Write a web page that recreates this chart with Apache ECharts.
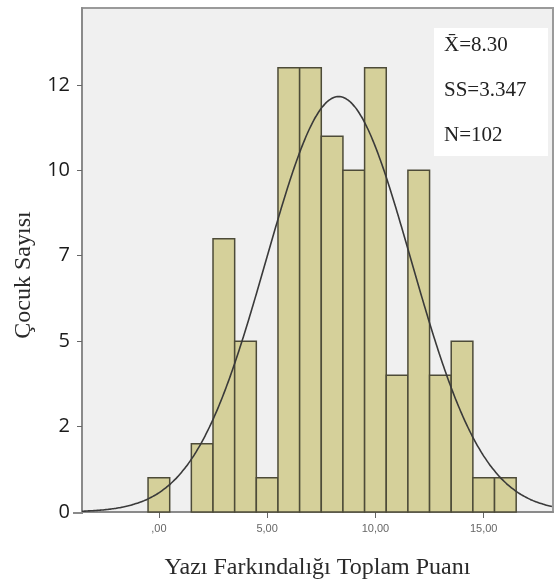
<!DOCTYPE html>
<html>
<head>
    <meta charset="UTF-8">
    <title></title>
    <script src="https://cdn.jsdelivr.net/npm/echarts@6/dist/echarts.min.js"></script>
    <style>
        body { margin: 0; background: #fff; }
    </style>
</head>
<body>
<div id="container" style="height:585px;width:555px;"></div>
<script>
    // histogram: score (bin centre) -> number of children
    var scores = [0, 1, 2, 3, 4, 5, 6, 7, 8, 9, 10, 11, 12, 13, 14, 15, 16];
    var counts = [1, 0, 2, 8, 5, 1, 13, 13, 11, 10, 13, 4, 10, 4, 5, 1, 1];
    var xTicks = [0, 5, 10, 15];
    var xTickLabels = [',00', '5,00', '10,00', '15,00'];
    var yTicks = [0, 2.5, 5, 7.5, 10, 12.5];
    var yTickLabels = ['0', '2', '5', '7', '10', '12'];
    // stats shown in the box, also used for the fitted normal curve
    var mean = 8.30, sd = 3.347, n = 102;
    var xMin = -3.55, xMax = 18.2;

    var bars = [];
    for (var i = 0; i < scores.length; i++) {
        if (counts[i] > 0) bars.push([scores[i], counts[i]]);
    }

    // SPSS-style normal curve scaled to bin width 1
    var curve = [];
    for (var x = xMin; x <= xMax + 0.001; x += 0.1) {
        var z = (x - mean) / sd;
        curve.push([x, n / (sd * Math.sqrt(2 * Math.PI)) * Math.exp(-z * z / 2)]);
    }

    var dom = document.getElementById("container");
    var myChart = echarts.init(dom);

    var option = {
        animation: false,
        backgroundColor: '#fff',
        grid: {
            left: 82, top: 8, right: 2, bottom: 72,
            show: true,
            backgroundColor: '#f0f0f0',
            borderColor: '#9a9a9a',
            borderWidth: 2
        },
        xAxis: {
            type: 'value',
            min: xMin,
            max: xMax,
            name: 'Yazı Farkındalığı Toplam Puanı',
            nameLocation: 'middle',
            nameGap: 44,
            nameTextStyle: { fontFamily: 'Liberation Serif', fontSize: 24, color: '#2a2a2a' },
            splitLine: { show: false },
            axisLine: { show: true, onZero: false, lineStyle: { color: '#8a8a8a', width: 2 } },
            axisTick: { show: true, customValues: xTicks, length: 6, lineStyle: { color: '#666' } },
            axisLabel: {
                customValues: xTicks,
                color: '#666',
                fontSize: 11,
                margin: 11,
                formatter: function (v) {
                    var k = xTicks.indexOf(v);
                    return k >= 0 ? xTickLabels[k] : '';
                }
            }
        },
        yAxis: {
            type: 'value',
            min: 0,
            max: 14.75,
            name: 'Çocuk Sayısı',
            nameLocation: 'middle',
            nameGap: 46,
            nameTextStyle: { fontFamily: 'Liberation Serif', fontSize: 24, color: '#2a2a2a', padding: [0, 30, 0, 0] },
            splitLine: { show: false },
            axisLine: { show: true, onZero: false, lineStyle: { color: '#8a8a8a', width: 2 } },
            axisTick: { show: true, customValues: yTicks, length: 5, lineStyle: { color: '#666' } },
            axisLabel: {
                customValues: yTicks,
                color: '#1a1a1a',
                fontSize: 20,
                fontFamily: 'Open Sans',
                margin: 12,
                formatter: function (v) {
                    var k = yTicks.indexOf(v);
                    return k >= 0 ? yTickLabels[k] : '';
                }
            }
        },
        series: [
            {
                type: 'custom',
                data: bars,
                renderItem: function (params, api) {
                    var x = api.value(0), y = api.value(1);
                    var p0 = api.coord([x - 0.5, y]);
                    var p1 = api.coord([x + 0.5, 0]);
                    return {
                        type: 'rect',
                        shape: { x: p0[0], y: p0[1], width: p1[0] - p0[0], height: p1[1] - p0[1] },
                        style: { fill: '#d5d09a', stroke: '#4d4b38', lineWidth: 1.5 }
                    };
                },
                z: 2
            },
            {
                type: 'line',
                data: curve,
                smooth: true,
                showSymbol: false,
                lineStyle: { color: '#3a3a3a', width: 1.6 },
                z: 3
            }
        ],
        graphic: [
            {
                type: 'line',
                shape: { x1: 73, y1: 513, x2: 83, y2: 513 },
                style: { stroke: '#8a8a8a', lineWidth: 2 },
                z: 10
            },
            {
                type: 'rect',
                shape: { x: 434, y: 28, width: 114, height: 128 },
                style: { fill: '#ffffff' },
                z: 10
            },
            {
                type: 'text',
                left: 444, top: 35,
                style: { text: 'X\u0304=8.30', font: '21px "Liberation Serif"', fill: '#222' },
                z: 11
            },
            {
                type: 'text',
                left: 444, top: 80,
                style: { text: 'SS=3.347', font: '21px "Liberation Serif"', fill: '#222' },
                z: 11
            },
            {
                type: 'text',
                left: 444, top: 125,
                style: { text: 'N=102', font: '21px "Liberation Serif"', fill: '#222' },
                z: 11
            }
        ]
    };
    myChart.setOption(option);
</script>
</body>
</html>
